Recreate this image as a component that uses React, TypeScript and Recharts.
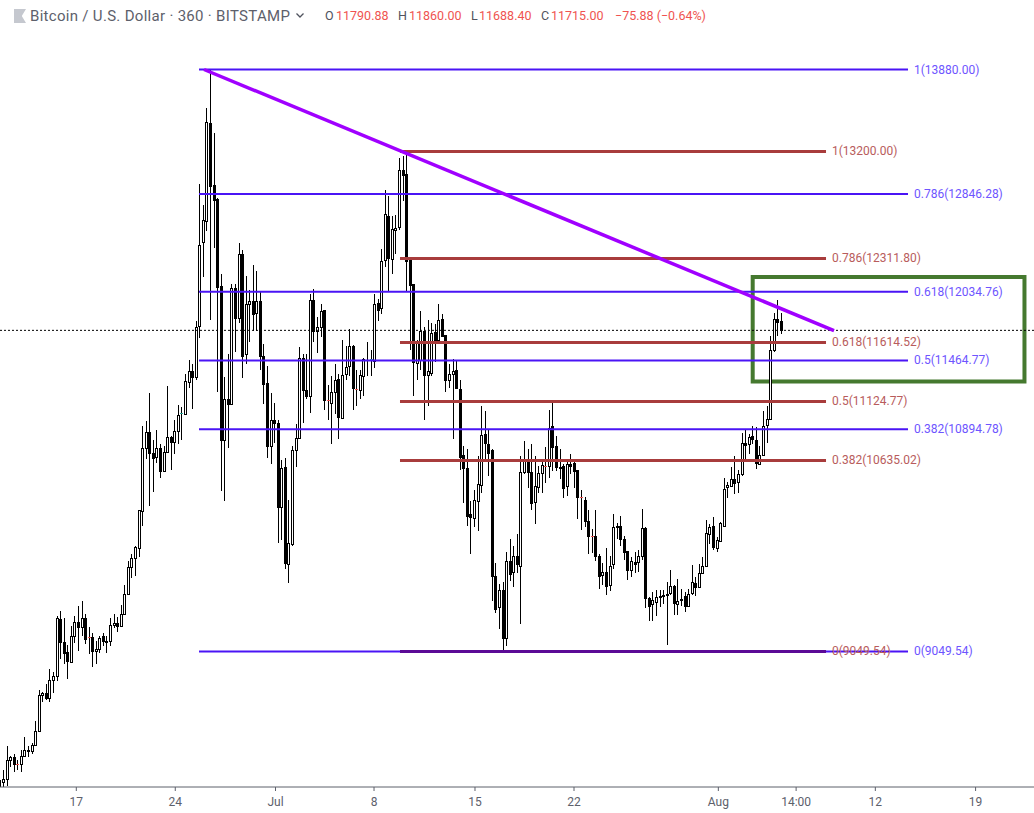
// BTC/USD 6h candles with two fib retracements, a trend line and a highlight box.
import * as React from 'react';
import { Bar, ComposedChart, ReferenceArea, ReferenceDot, ReferenceLine, XAxis, YAxis } from 'recharts';

const opens = [
  7923, 7965, 7993, 8150, 8170, 8117, 8114, 8184, 8233, 8225,
  8275, 8388, 8690, 8707, 8662, 8814, 8845, 9321, 9130, 9047,
  8964, 9174, 9296, 9252, 9329, 9169, 9169, 9052, 9069, 9180,
  9135, 9133, 9268, 9288, 9260, 9362, 9528, 9752, 9827, 9907,
  10214, 10740, 10873, 10693, 10662, 10740, 10546, 10707, 10826, 10787,
  10881, 11022, 11019, 11285, 11379, 11327, 11750, 12447, 12621, 13438,
  12923, 12807, 12084, 10806, 11147, 11102, 12068, 11816, 12350, 11517,
  11935, 11955, 11861, 11955, 11506, 11280, 10754, 10967, 10948, 10247,
  10582, 9777, 9943, 10723, 10823, 11487, 11216, 11169, 11968, 11706,
  11741, 11880, 11133, 11113, 11202, 11315, 10989, 11351, 11418, 11587,
  11230, 11219, 11340, 11473, 11470, 11459, 11946, 11902, 12298, 12668,
  12309, 12547, 12572, 13048, 13009, 12295, 12101, 11445, 11465, 11711,
  11346, 11360, 11705, 11631, 11811, 11678, 11302, 11351, 11382, 11232,
  10682, 10569, 10187, 10159, 10297, 10433, 10851, 10768, 10718, 9672,
  9417, 9556, 9160, 9802, 9708, 9846, 9761, 10541, 10640, 10541,
  10292, 10414, 10533, 10591, 10591, 10923, 10757, 10582, 10585, 10422,
  10602, 10610, 10552, 10331, 10311, 10129, 10004, 10004, 9838, 9686,
  9711, 9600, 9777, 10093, 10093, 9985, 9885, 9727, 9794, 9791,
  9841, 10076, 9495, 9442, 9459, 9514, 9520, 9528, 9534, 9597,
  9442, 9489, 9506, 9431, 9534, 9622, 9583, 9700, 9758, 10026,
  10093, 9907, 9965, 10095, 10413, 10427, 10483, 10458, 10519, 10781,
  10773, 10834, 10809, 10607, 10682, 10931, 10981, 11553, 11811, 11790.88,
];

const closes = [
  7979, 7993, 8150, 8170, 8112, 8114, 8184, 8233, 8233, 8275,
  8391, 8690, 8707, 8662, 8814, 8848, 9329, 9127, 9041, 8967,
  9180, 9296, 9252, 9329, 9157, 9163, 9052, 9069, 9160, 9135,
  9135, 9268, 9288, 9263, 9362, 9528, 9752, 9827, 9918, 10220,
  10740, 10873, 10696, 10654, 10740, 10546, 10707, 10831, 10787, 10881,
  11014, 11030, 11296, 11379, 11327, 11744, 12425, 12632, 13446, 12912,
  12798, 12073, 10803, 11147, 11102, 12068, 11816, 12350, 11506, 11935,
  11957, 11850, 11955, 11501, 11268, 10754, 10972, 10945, 10247, 10574,
  9783, 9951, 10723, 10823, 11487, 11221, 11169, 11963, 11711, 11741,
  11877, 11133, 11127, 11202, 11304, 10994, 11346, 11412, 11587, 11235,
  11227, 11346, 11479, 11470, 11476, 11935, 11885, 12287, 12682, 12314,
  12558, 12566, 13048, 13006, 12289, 12090, 11451, 11609, 11711, 11346,
  11379, 11697, 11631, 11802, 11672, 11304, 11349, 11379, 11238, 10663,
  10569, 10178, 10165, 10308, 10441, 10848, 10779, 10701, 9672, 9401,
  9561, 9160, 9802, 9691, 9846, 9774, 10541, 10640, 10538, 10281,
  10422, 10535, 10599, 10588, 10906, 10746, 10577, 10582, 10405, 10602,
  10593, 10546, 10331, 10325, 10131, 10007, 10001, 9841, 9680, 9711,
  9597, 9761, 10079, 10082, 9982, 9874, 9725, 9802, 9772, 9843,
  10076, 9495, 9431, 9475, 9498, 9500, 9509, 9528, 9594, 9451,
  9470, 9473, 9431, 9528, 9628, 9583, 9702, 9760, 10034, 10084,
  9915, 9971, 10112, 10400, 10433, 10483, 10447, 10524, 10781, 10762,
  10831, 10812, 10613, 10682, 10923, 10981, 11553, 11811, 11786, 11715,
];

const highs = [
  8089, 8062, 8261, 8178, 8195, 8145, 8228, 8336, 8261, 8289,
  8469, 8731, 8712, 8776, 8908, 8878, 9346, 9387, 9324, 9102,
  9263, 9340, 9423, 9470, 9357, 9254, 9207, 9138, 9174, 9202,
  9180, 9324, 9360, 9332, 9437, 9600, 9797, 9860, 9929, 10225,
  10917, 10959, 11199, 10801, 10884, 10768, 10759, 11249, 10842, 10967,
  11097, 11078, 11349, 11473, 11432, 11794, 12931, 12757, 13562, 13880,
  13357, 12812, 12184, 11329, 11520, 12096, 12096, 12444, 12386, 12170,
  12046, 12254, 12204, 12032, 11598, 11423, 11199, 11111, 10972, 10643,
  10657, 10303, 10751, 10939, 11573, 11520, 11515, 12013, 12060, 11825,
  11935, 11885, 11263, 11340, 11437, 11354, 11636, 11581, 11728, 11590,
  11382, 11382, 11487, 11622, 11548, 12013, 11977, 12392, 12881, 12834,
  12668, 12674, 13147, 13158, 13200, 12295, 12101, 11636, 11872, 11741,
  11797, 11775, 11764, 11935, 11847, 11678, 11437, 11479, 11465, 11307,
  10759, 10732, 10295, 10394, 10668, 11083, 11042, 10884, 10729, 9780,
  9606, 9628, 9877, 9985, 9921, 10026, 10668, 10793, 10732, 10773,
  10668, 10593, 10649, 10743, 11050, 11114, 10834, 10732, 10602, 10649,
  10685, 10649, 10552, 10386, 10331, 10228, 10068, 10220, 9855, 9783,
  9910, 9838, 10187, 10118, 10178, 10012, 9885, 9832, 9874, 9893,
  10234, 10080, 9498, 9542, 9561, 9561, 9561, 9630, 9722, 9600,
  9653, 9570, 9542, 9570, 9769, 9666, 9777, 9832, 10145, 10104,
  10164, 9998, 10123, 10491, 10455, 10580, 10668, 10552, 10865, 10889,
  10856, 10917, 10911, 10751, 11042, 11083, 11672, 11863, 11963, 11860,
];

const lows = [
  7900, 7923, 7937, 8089, 8048, 8062, 8048, 8178, 8172, 8197,
  8269, 8388, 8629, 8643, 8629, 8704, 8803, 8986, 8944, 8820,
  8964, 9124, 9052, 9180, 9110, 9027, 8920, 8942, 9033, 9091,
  9041, 9097, 9241, 9213, 9249, 9351, 9526, 9658, 9680, 9832,
  10087, 10646, 10253, 10372, 10618, 10488, 10546, 10701, 10552, 10687,
  10770, 10801, 11017, 11235, 11061, 11299, 11650, 12156, 12538, 11797,
  12397, 11202, 10380, 10297, 10737, 11097, 11534, 11778, 11318, 11437,
  11617, 11708, 11708, 11390, 11105, 10654, 10604, 10779, 9949, 9971,
  9733, 9617, 9929, 10579, 10823, 10945, 11147, 11028, 11617, 11526,
  11658, 11050, 10972, 10773, 11022, 10815, 10989, 11299, 11340, 11050,
  11083, 11144, 11166, 11332, 11332, 11401, 11789, 11847, 12240, 12032,
  12179, 12350, 12549, 12787, 12032, 11548, 11166, 11299, 11382, 10967,
  11083, 11332, 11451, 11631, 11672, 11202, 11235, 10812, 11238, 10552,
  10281, 10090, 9857, 10079, 10048, 10364, 10635, 10510, 9467, 9368,
  9235, 9052, 9094, 9633, 9583, 9700, 9279, 10524, 10405, 10220,
  10106, 10364, 10364, 10452, 10488, 10544, 10544, 10480, 10322, 10339,
  10519, 10405, 10148, 10057, 10082, 9857, 9866, 9799, 9567, 9600,
  9517, 9550, 9736, 9985, 9924, 9805, 9647, 9666, 9702, 9708,
  9805, 9409, 9301, 9301, 9348, 9417, 9445, 9107, 9522, 9356,
  9356, 9431, 9376, 9431, 9522, 9506, 9578, 9694, 9758, 9943,
  9888, 9879, 9965, 10087, 10322, 10419, 10358, 10364, 10502, 10649,
  10690, 10773, 10563, 10607, 10676, 10779, 10981, 11534, 11667, 11688.4,
];

// x axis runs in candle numbers, labels sit where the source chart had them
const tickSpots = [21.46, 49.2, 77.29, 104.9, 133.2, 160.95, 201.4, 223.2, 245.4, 273.5];
const tickLabels = ['17', '24', 'Jul', '8', '15', '22', 'Aug', '14:00', '12', '19'];

const fibRatios = ['1', '0.786', '0.618', '0.5', '0.382', '0'];
const bluePrices = ['13880.00', '12846.28', '12034.76', '11464.77', '10894.78', '9049.54'];
const redPrices = ['13200.00', '12311.80', '11614.52', '11124.77', '10635.02', '9049.54'];
const blueSpan = [55.85, 254.56];
const redSpan = [112.18, 231.58];

const trendFrom = { x: 57.25, y: 13880 };
const trendTo = { x: 233.82, y: 11713 };
const boxX = [211.03, 287.2];
const boxY = [11290, 12158];
const lastClose = 11715;

const xDomain = [0.076, 289.87];
const yDomain = [7924.8, 14456.9];

const quoteParts = [
  { text: 'O', left: 325, color: '#50535e' },
  { text: '11790.88', left: 336, color: '#ef5350' },
  { text: 'H', left: 398, color: '#50535e' },
  { text: '11860.00', left: 409, color: '#ef5350' },
  { text: 'L', left: 471, color: '#50535e' },
  { text: '11688.40', left: 479, color: '#ef5350' },
  { text: 'C', left: 541, color: '#50535e' },
  { text: '11715.00', left: 551, color: '#ef5350' },
  { text: '\u221275.88 (\u22120.64%)', left: 615, color: '#ef5350' },
];

const FONT = 'Roboto, sans-serif';

const candles = opens.map((open, idx) => ({
  idx,
  open,
  close: closes[idx],
  high: highs[idx],
  low: lows[idx],
}));

function Candle(props: any) {
  const { x, y, width, height, payload } = props;
  const { open, close, high, low } = payload;
  const priceY = (p: number) => y + ((high - p) / (high - low)) * height;
  const cx = Math.round(x + width / 2);
  const top = Math.round(priceY(Math.max(open, close)));
  const bottom = Math.round(priceY(Math.min(open, close)));
  const up = close > open;
  const diff = Math.abs(close - open);

  // tiny bodies show up as a coloured tick in the source chart
  if (diff > 0 && diff <= 8) {
    return (
      <g shapeRendering='crispEdges'>
        <line x1={cx + 0.5} x2={cx + 0.5} y1={y} y2={y + height} stroke='#000' />
        <rect x={cx - 1} y={top} width={3} height={1} fill={up ? '#26a69a' : '#ef5350'} />
      </g>
    );
  }

  return (
    <g shapeRendering='crispEdges'>
      <line x1={cx + 0.5} x2={cx + 0.5} y1={y} y2={y + height} stroke='#000' />
      <rect
        x={cx - 0.5}
        y={top + 0.5}
        width={2}
        height={Math.max(bottom - top, 1)}
        fill={up ? '#fff' : '#000'}
        stroke='#000'
      />
    </g>
  );
}

function LevelLabel(props: any) {
  const { cx, cy, text, color } = props;
  return (
    <text x={cx + 6} y={cy + 4} fill={color} fontFamily={FONT} fontSize={12}>
      {text}
    </text>
  );
}

function Header() {
  return (
    <div style={{ position: 'absolute', left: 0, top: 0, width: 1034, height: 30, fontFamily: FONT, whiteSpace: 'nowrap' }}>
      <div
        style={{
          position: 'absolute',
          left: 14,
          top: 9,
          width: 12,
          height: 14,
          background: '#c5c8cf',
          clipPath: 'polygon(0 0, 100% 0, 65% 50%, 100% 100%, 0 100%)',
        }}
      />
      <span
        style={{
          position: 'absolute',
          left: 30,
          top: 7,
          fontSize: 15,
          letterSpacing: 0.3,
          lineHeight: '18px',
          color: '#5d606b',
        }}
      >
        Bitcoin / U.S. Dollar · 360 · BITSTAMP
      </span>
      <svg style={{ position: 'absolute', left: 296, top: 13 }} width={8} height={6}>
        <polyline points='0.5,0.5 4,4 7.5,0.5' fill='none' stroke='#50535e' strokeWidth={1.3} />
      </svg>
      {quoteParts.map((part) => (
        <span
          key={part.left}
          style={{ position: 'absolute', left: part.left, top: 8, fontSize: 12.5, lineHeight: '16px', color: part.color }}
        >
          {part.text}
        </span>
      ))}
    </div>
  );
}

export default function App() {
  return (
    <div style={{ position: 'absolute', left: 0, top: 0, width: 1034, height: 813, background: '#fff' }}>
      <ComposedChart width={1034} height={813} data={candles} margin={{ top: 0, right: 0, bottom: 0, left: 0 }}>
        <XAxis
          dataKey='idx'
          type='number'
          domain={xDomain}
          allowDataOverflow
          ticks={tickSpots}
          interval={0}
          height={26}
          tickSize={4}
          tickMargin={6}
          stroke='#5d606b'
          tick={{ fill: '#5d606b', fontSize: 12, fontFamily: FONT }}
          tickFormatter={(v: number) => tickLabels[tickSpots.indexOf(v)]}
        />
        <YAxis hide domain={yDomain} allowDataOverflow />
        <Bar dataKey={(d: any) => [d.low, d.high]} barSize={3} shape={Candle} isAnimationActive={false} />

        <ReferenceLine y={lastClose} stroke='#000' strokeDasharray='2 2' strokeWidth={1} />

        {fibRatios.map((ratio, i) => {
          const price = Number(bluePrices[i]);
          return (
            <ReferenceLine
              key={'blue' + ratio}
              segment={[{ x: blueSpan[0], y: price }, { x: blueSpan[1], y: price }]}
              stroke='#4a14f5'
              strokeWidth={2}
            />
          );
        })}
        {fibRatios.map((ratio, i) => {
          const price = Number(redPrices[i]);
          return (
            <ReferenceLine
              key={'red' + ratio}
              segment={[{ x: redSpan[0], y: price }, { x: redSpan[1], y: price }]}
              stroke={ratio === '0' ? '#5b0a96' : '#a83c3c'}
              strokeWidth={3}
            />
          );
        })}
        <ReferenceLine segment={[trendFrom, trendTo]} stroke='#a000ff' strokeWidth={3.5} />
        <ReferenceArea
          x1={boxX[0]}
          x2={boxX[1]}
          y1={boxY[0]}
          y2={boxY[1]}
          fill='none'
          fillOpacity={0}
          stroke='#45792f'
          strokeWidth={4}
        />

        {fibRatios.map((ratio, i) => (
          <ReferenceDot
            key={'redLabel' + ratio}
            x={redSpan[1]}
            y={Number(redPrices[i])}
            r={0}
            shape={(p: any) => <LevelLabel {...p} text={`${ratio}(${redPrices[i]})`} color='#b85c5c' />}
          />
        ))}
        {fibRatios.map((ratio, i) => (
          <ReferenceDot
            key={'blueLabel' + ratio}
            x={blueSpan[1]}
            y={Number(bluePrices[i])}
            r={0}
            shape={(p: any) => <LevelLabel {...p} text={`${ratio}(${bluePrices[i]})`} color='#6e55ff' />}
          />
        ))}
      </ComposedChart>
      <Header />
    </div>
  );
}
